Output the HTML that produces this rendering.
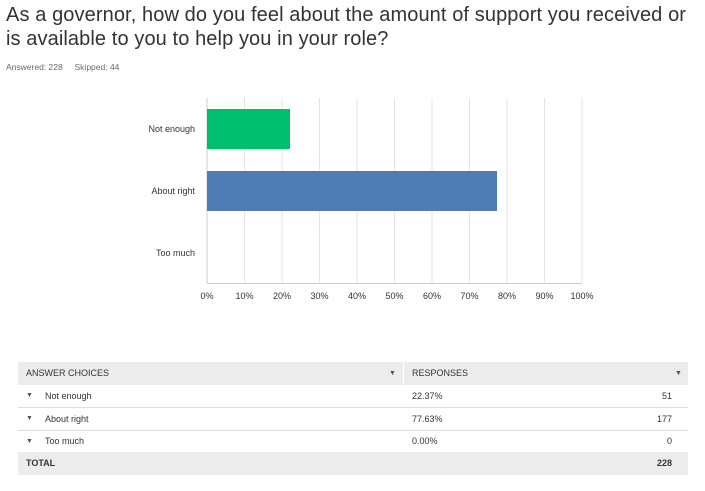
<!DOCTYPE html>
<html><head><style>
body{margin:0;width:705px;height:491px;background:#fff;font-family:"Liberation Sans",sans-serif;color:#333;position:relative;overflow:hidden}
.t{position:absolute;left:6px;top:3px;font-size:20px;line-height:24px;color:#333;letter-spacing:0.1px}
.s{position:absolute;left:6px;top:62px;font-size:8.5px;color:#6b6b6b}
.tb{position:absolute;left:18px;width:670px;font-size:9px;color:#333}
.r{position:absolute;left:0;width:670px;height:23px;line-height:23px}
.c{position:absolute}
.a{font-size:7px;color:#555}
</style></head><body>
<div class="t">As a governor, how do you feel about the amount of support you received or<br>is available to you to help you in your role?</div>
<div class="s">Answered: 228&nbsp;&nbsp;&nbsp;&nbsp;&nbsp;Skipped: 44</div>
<svg style="position:absolute;left:0;top:0" width="705" height="340">
<g stroke="#e4e4e4" stroke-width="1">
<line x1="244.5" y1="98" x2="244.5" y2="283"/><line x1="282" y1="98" x2="282" y2="283"/><line x1="319.5" y1="98" x2="319.5" y2="283"/><line x1="357" y1="98" x2="357" y2="283"/><line x1="394.5" y1="98" x2="394.5" y2="283"/><line x1="432" y1="98" x2="432" y2="283"/><line x1="469.5" y1="98" x2="469.5" y2="283"/><line x1="507" y1="98" x2="507" y2="283"/><line x1="544.5" y1="98" x2="544.5" y2="283"/><line x1="582" y1="98" x2="582" y2="283"/>
</g>
<line x1="207" y1="98" x2="207" y2="283.5" stroke="#ccc"/>
<line x1="207" y1="283.5" x2="582" y2="283.5" stroke="#ccc"/>
<rect x="207" y="109" width="83" height="40" fill="#00bf6f"/>
<rect x="207" y="171" width="290" height="40" fill="#507cb6"/>
<g font-size="9" fill="#333" text-anchor="end" font-family="Liberation Sans,sans-serif">
<text x="195" y="132">Not enough</text><text x="195" y="194">About right</text><text x="195" y="256">Too much</text>
</g>
<g font-size="9" fill="#333" text-anchor="middle" font-family="Liberation Sans,sans-serif">
<text x="207" y="299">0%</text><text x="244.5" y="299">10%</text><text x="282" y="299">20%</text><text x="319.5" y="299">30%</text><text x="357" y="299">40%</text><text x="394.5" y="299">50%</text><text x="432" y="299">60%</text><text x="469.5" y="299">70%</text><text x="507" y="299">80%</text><text x="544.5" y="299">90%</text><text x="582" y="299">100%</text>
</g>
</svg>
<div class="tb" style="top:362px">
<div class="r" style="top:0;background:#ececec"><span class="c" style="left:8px">ANSWER CHOICES</span><span class="c a" style="left:371px">▼</span><span class="c" style="left:385px;width:1px;height:23px;background:#fff"></span><span class="c" style="left:394px">RESPONSES</span><span class="c a" style="left:657px">▼</span></div>
<div class="r" style="top:23px;border-bottom:1px solid #ddd;height:22px;line-height:22px"><span class="c a" style="left:8px">▼</span><span class="c" style="left:27px">Not enough</span><span class="c" style="left:394px">22.37%</span><span class="c" style="right:16px">51</span></div>
<div class="r" style="top:46px;border-bottom:1px solid #ddd;height:22px;line-height:22px"><span class="c a" style="left:8px">▼</span><span class="c" style="left:27px">About right</span><span class="c" style="left:394px">77.63%</span><span class="c" style="right:16px">177</span></div>
<div class="r" style="top:69px;height:21px;line-height:21px"><span class="c a" style="left:8px">▼</span><span class="c" style="left:27px">Too much</span><span class="c" style="left:394px">0.00%</span><span class="c" style="right:16px">0</span></div>
<div class="r" style="top:90px;background:#ececec;font-weight:bold"><span class="c" style="left:8px">TOTAL</span><span class="c" style="right:16px">228</span></div>
</div>
</body></html>
